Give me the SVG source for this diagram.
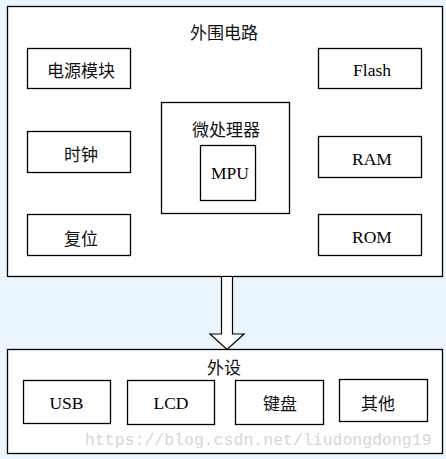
<svg xmlns="http://www.w3.org/2000/svg" width="446" height="459" viewBox="0 0 446 459">
<style>
.box{fill:#fff;stroke:#000;stroke-width:1.3}
.cn{font-family:"Noto Sans CJK SC","Noto Sans",sans-serif;font-size:17px;fill:#111;text-anchor:middle}
.en{font-family:"Liberation Serif",serif;font-size:17.5px;fill:#000;text-anchor:middle}
.wm{font-family:"Liberation Mono",monospace;font-size:16.5px;fill:#d6d6d6}
</style>
<rect width="446" height="459" fill="#eaf5fe"/>
<g id="outer">
<rect class="box" x="7.5" y="6.5" width="435" height="270"/>
<text class="cn" x="224" y="39">外围电路</text>
</g>
<g id="power"><rect class="box" x="27.5" y="48.5" width="103" height="40"/><text class="cn" x="81" y="77">电源模块</text></g>
<g id="clock"><rect class="box" x="27.5" y="131.5" width="103" height="41"/><text class="cn" x="81" y="161">时钟</text></g>
<g id="reset"><rect class="box" x="27.5" y="214.5" width="103" height="41"/><text class="cn" x="81" y="245">复位</text></g>
<g id="cpu"><rect class="box" x="161.5" y="102.5" width="128" height="111"/><text class="cn" x="226" y="136">微处理器</text></g>
<g id="mpu"><rect class="box" x="200.5" y="145.5" width="55" height="55"/><text class="en" x="230" y="179">MPU</text></g>
<g id="flash"><rect class="box" x="318.5" y="48.5" width="103" height="40"/><text class="en" x="372" y="76">Flash</text></g>
<g id="ram"><rect class="box" x="318.5" y="136.5" width="103" height="41"/><text class="en" x="372" y="165">RAM</text></g>
<g id="rom"><rect class="box" x="318.5" y="214.5" width="103" height="41"/><text class="en" x="372" y="243">ROM</text></g>
<g id="connectors">
<path d="M221.5 276.5 V334 H210 L227 349.5 L244 334 H232.5 V276.5 Z" fill="#fff" stroke="#000" stroke-width="1.2"/>
</g>
<g id="periph">
<rect class="box" x="7.5" y="349.5" width="435" height="104"/>
<text class="cn" x="224" y="374">外设</text>
</g>
<g id="usb"><rect class="box" x="23.5" y="380.5" width="87" height="43"/><text class="en" x="66.5" y="409">USB</text></g>
<g id="lcd"><rect class="box" x="127.5" y="380.5" width="87" height="44"/><text class="en" x="171" y="409">LCD</text></g>
<g id="kbd"><rect class="box" x="235.5" y="380.5" width="88" height="44"/><text class="cn" x="280" y="410">键盘</text></g>
<g id="other"><rect class="box" x="339.5" y="379.5" width="88" height="42"/><text class="cn" x="378" y="410">其他</text></g>
<text class="wm" x="85" y="445">https://blog.csdn.net/liudongdong19</text>
</svg>
